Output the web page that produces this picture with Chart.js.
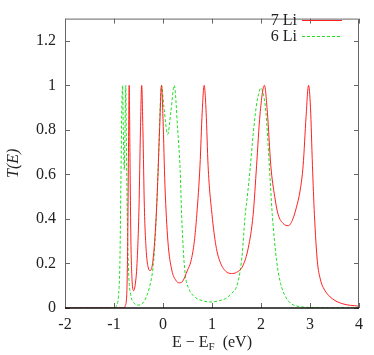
<!DOCTYPE html>
<html>
<head>
<meta charset="utf-8">
<script src="https://cdn.jsdelivr.net/npm/chart.js@4.4.1/dist/chart.umd.min.js"></script>
<style>
  html, body { margin: 0; padding: 0; background: #fff; }
  #wrap { width: 374px; height: 355px; }
</style>
</head>
<body>
<div id="wrap"><canvas id="c" width="374" height="355"></canvas></div>
<script>
// 7 Li transmission
const li7E = [-2, -0.8, -0.77, -0.74, -0.72, -0.705, -0.69, -0.675, -0.655, -0.63, -0.6, -0.57, -0.53, -0.49, -0.46,
  -0.435, -0.41, -0.38, -0.34, -0.3, -0.265, -0.22, -0.17, -0.12, -0.07, -0.03, 0.0, 0.04, 0.1, 0.18, 0.26, 0.33,
  0.4, 0.5, 0.57, 0.64, 0.69, 0.755, 0.8, 0.84, 0.88, 0.92, 1.0, 1.08, 1.16, 1.28, 1.4, 1.5, 1.63, 1.74, 1.84,
  1.91, 1.98, 2.07, 2.13, 2.2, 2.28, 2.35, 2.45, 2.56, 2.65, 2.72, 2.8, 2.86, 2.92, 2.97, 3.01, 3.05, 3.09, 3.15,
  3.21, 3.27, 3.41, 3.65, 4.0];
const li7T = [0, 0, 0.01, 0.06, 0.3, 0.7, 1.0, 0.7, 0.3, 0.12, 0.078, 0.1, 0.2, 0.45, 0.8,
  1.0, 0.8, 0.45, 0.25, 0.18, 0.168, 0.19, 0.3, 0.5, 0.8, 1.0, 0.85, 0.55, 0.3, 0.17, 0.125, 0.113,
  0.12, 0.17, 0.21, 0.3, 0.42, 0.64, 0.88, 1.0, 0.88, 0.64, 0.42, 0.28, 0.21, 0.165, 0.155, 0.16, 0.19, 0.27, 0.42,
  0.64, 0.87, 1.0, 0.88, 0.64, 0.5, 0.42, 0.38, 0.37, 0.4, 0.45, 0.53, 0.64, 0.86, 1.0, 0.9, 0.64, 0.42, 0.21,
  0.13, 0.092, 0.05, 0.02, 0.008];

// 6 Li transmission
const li6E = [-2, -1.0, -0.95, -0.91, -0.88, -0.86, -0.84, -0.825, -0.81, -0.79, -0.775, -0.76, -0.745, -0.725, -0.7,
  -0.66, -0.6, -0.5, -0.42, -0.35, -0.28, -0.2, -0.15, -0.1, -0.03, 0.02, 0.095, 0.16, 0.23, 0.3, 0.35, 0.38,
  0.42, 0.46, 0.52, 0.62, 0.8, 0.99, 1.15, 1.3, 1.4, 1.5, 1.57, 1.62, 1.67, 1.73, 1.78, 1.84, 1.9, 1.95, 1.995,
  2.05, 2.1, 2.17, 2.23, 2.32, 2.4, 2.49, 2.6, 2.8, 3.1, 4.0];
const li6T = [0, 0, 0.01, 0.05, 0.2, 0.55, 0.9, 1.0, 0.8, 0.62, 0.8, 1.0, 0.7, 0.35, 0.15,
  0.06, 0.025, 0.013, 0.02, 0.045, 0.09, 0.19, 0.35, 0.62, 1.0, 0.9, 0.78, 0.88, 1.0, 0.8, 0.62, 0.42,
  0.24, 0.14, 0.09, 0.055, 0.033, 0.027, 0.033, 0.045, 0.065, 0.095, 0.16, 0.25, 0.4, 0.52, 0.63, 0.78, 0.9, 0.96, 0.988,
  0.96, 0.88, 0.64, 0.42, 0.21, 0.11, 0.055, 0.022, 0.006, 0.002, 0];

const xTicks = [-2, -1, 0, 1, 2, 3, 4];
const yTicks = [0, 0.2, 0.4, 0.6, 0.8, 1, 1.2];
const seriesNames = ["7 Li", "6 Li"];

const serif = '"Liberation Serif", serif';

const pts = (xs, ys) => xs.map((v, i) => ({ x: v, y: ys[i] }));

// gnuplot style frame, inward ticks, titles and legend
const frame = {
  id: "frame",
  afterDraw(chart) {
    const { ctx, chartArea: a, scales } = chart;
    const x = scales.x, y = scales.y;
    ctx.save();
    ctx.strokeStyle = "#666";
    ctx.lineWidth = 1;
    ctx.beginPath();
    ctx.moveTo(a.left + 0.5, a.bottom);
    ctx.lineTo(a.left + 0.5, a.top + 0.5);
    ctx.lineTo(a.right - 0.5, a.top + 0.5);
    ctx.lineTo(a.right - 0.5, a.bottom);
    xTicks.forEach(v => {
      const px = Math.round(x.getPixelForValue(v)) + 0.5;
      ctx.moveTo(px, a.bottom); ctx.lineTo(px, a.bottom - 5);
      ctx.moveTo(px, a.top); ctx.lineTo(px, a.top + 5);
    });
    yTicks.forEach(v => {
      const py = Math.round(y.getPixelForValue(v)) + 0.5;
      ctx.moveTo(a.left, py); ctx.lineTo(a.left + 5, py);
      ctx.moveTo(a.right, py); ctx.lineTo(a.right - 5, py);
    });
    ctx.stroke();
    ctx.strokeStyle = "#111";
    ctx.lineWidth = 1.5;
    ctx.beginPath();
    ctx.moveTo(a.left, a.bottom);
    ctx.lineTo(a.right, a.bottom);
    ctx.stroke();

    // y title
    ctx.fillStyle = "#222";
    ctx.font = "italic 16px " + serif;
    ctx.textAlign = "center";
    ctx.textBaseline = "middle";
    ctx.translate(14, (a.top + a.bottom) / 2);
    ctx.rotate(-Math.PI / 2);
    ctx.fillText("T(E)", 0, 0);
    ctx.setTransform(1, 0, 0, 1, 0, 0);

    // x title with subscript
    ctx.textAlign = "left";
    ctx.textBaseline = "alphabetic";
    const p1 = "E \u2212 E", sub = "F", p2 = "  (eV)";
    ctx.font = "16px " + serif;
    const w1 = ctx.measureText(p1).width, w3 = ctx.measureText(p2).width;
    ctx.font = "11px " + serif;
    const w2 = ctx.measureText(sub).width;
    const tx = (a.left + a.right) / 2 - (w1 + w2 + w3) / 2;
    const base = 347;
    ctx.font = "16px " + serif;
    ctx.fillText(p1, tx, base);
    ctx.font = "11px " + serif;
    ctx.fillText(sub, tx + w1, base + 3);
    ctx.font = "16px " + serif;
    ctx.fillText(p2, tx + w1 + w2, base);

    // legend
    ctx.font = "16px " + serif;
    ctx.textAlign = "right";
    chart.data.datasets.forEach((ds, i) => {
      const ly = 20 + i * 16;
      ctx.fillStyle = "#222";
      ctx.fillText(ds.label, a.right - 62, ly + 5);
      ctx.strokeStyle = ds.borderColor;
      ctx.lineWidth = 1;
      ctx.setLineDash(ds.borderDash || []);
      ctx.beginPath();
      ctx.moveTo(a.right - 57, ly + 0.5);
      ctx.lineTo(a.right - 17, ly + 0.5);
      ctx.stroke();
      ctx.setLineDash([]);
    });
    ctx.restore();
  }
};

new Chart(document.getElementById("c"), {
  type: "line",
  data: {
    datasets: [
      {
        label: seriesNames[0],
        data: pts(li7E, li7T),
        borderColor: "#ff2020",
        borderWidth: 1,
        pointRadius: 0,
        cubicInterpolationMode: "monotone",
      },
      {
        label: seriesNames[1],
        data: pts(li6E, li6T),
        borderColor: "#20e020",
        borderWidth: 1,
        borderDash: [3, 2],
        pointRadius: 0,
        cubicInterpolationMode: "monotone",
      },
    ],
  },
  options: {
    responsive: false,
    animation: false,
    layout: { padding: { top: 8, right: 15, left: 0, bottom: 0 } },
    plugins: { legend: { display: false }, tooltip: { enabled: false } },
    scales: {
      x: {
        type: "linear",
        min: -2,
        max: 4,
        afterBuildTicks: s => { s.ticks = xTicks.map(v => ({ value: v })); },
        afterFit: s => { s.height = 47; },
        grid: { display: false, drawTicks: false },
        border: { display: false },
        ticks: { padding: 7, color: "#222", font: { family: serif, size: 16 }, callback: v => String(v) },
      },
      y: {
        min: 0,
        max: 1.3,
        afterBuildTicks: s => { s.ticks = yTicks.map(v => ({ value: v })); },
        afterFit: s => { s.width = 65; },
        grid: { display: false, drawTicks: false },
        border: { display: false },
        ticks: { padding: 9, color: "#222", font: { family: serif, size: 16 }, callback: v => String(v) },
      },
    },
  },
  plugins: [frame],
});
</script>
</body>
</html>
